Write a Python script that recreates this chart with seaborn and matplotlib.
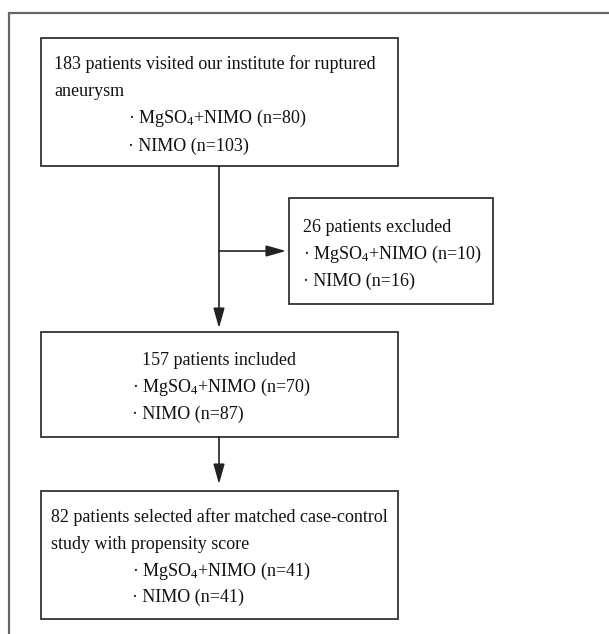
import matplotlib
matplotlib.use("Agg")
import matplotlib.pyplot as plt
from matplotlib.patches import Rectangle, FancyArrowPatch
import seaborn as sns

# ---- data ----
box_titles = [
    ["183 patients visited our institute for ruptured", "aneurysm"],
    ["26 patients excluded"],
    ["157 patients included"],
    ["82 patients selected after matched case-control", "study with propensity score"],
]
combo_n = [80, 10, 70, 41]
nimo_n = [103, 16, 87, 41]
combo_label = "MgSO$_{4}$+NIMO"
nimo_label = "NIMO"

sns.set_theme(style="white")
plt.rcParams["font.family"] = ["Liberation Serif", "DejaVu Serif"]
plt.rcParams["mathtext.default"] = "regular"

fig = plt.figure(figsize=(6.09, 6.34), dpi=100)
ax = fig.add_axes([0, 0, 1, 1])
ax.set_xlim(0, 609)
ax.set_ylim(634, 0)
ax.axis("off")

FS = 13.0
edge = "#333333"

# outer frame (top and left visible)
ax.plot([8.5, 609], [12.5, 12.5], color="#666666", lw=1.6)
ax.plot([8.5, 8.5], [12.5, 634], color="#666666", lw=1.6)

# boxes: (x0, y0, x1, y1)
boxes = [(41, 38, 398, 166), (289, 198, 493, 304), (41, 332, 398, 437), (41, 491, 398, 619)]
for (x0, y0, x1, y1) in boxes:
    ax.add_patch(Rectangle((x0, y0), x1 - x0, y1 - y0, fill=False, ec=edge, lw=1.3))

def arrow(p0, p1):
    ax.add_patch(FancyArrowPatch(p0, p1, arrowstyle="-|>,head_length=0.6,head_width=0.17",
                                 mutation_scale=20, color="#222222", lw=1.2,
                                 shrinkA=0, shrinkB=0))

cx = 219
arrow((cx, 166), (cx, 328))
arrow((cx, 251), (286, 251))
arrow((cx, 437), (cx, 484))

# texts
layout = [
    dict(title_x=[54, 54], title_y=[69, 96], ha="left", bx=128, by=[123, 151]),
    dict(title_x=[303], title_y=[232], ha="left", bx=303, by=[259, 286]),
    dict(title_x=[219], title_y=[365], ha="center", bx=132, by=[392, 419]),
    dict(title_x=[51, 51], title_y=[522, 549], ha="left", bx=132, by=[576, 602]),
]
for i, L in enumerate(layout):
    for t, x, y in zip(box_titles[i], L["title_x"], L["title_y"]):
        ax.text(x, y, t, ha=L["ha"], va="baseline", fontsize=FS, color="#111111")
    ax.text(L["bx"], L["by"][0], "\u00b7 " + combo_label + " (n=%d)" % combo_n[i],
            ha="left", va="baseline", fontsize=FS, color="#111111")
    ax.text(L["bx"], L["by"][1], "\u00b7 " + nimo_label + " (n=%d)" % nimo_n[i],
            ha="left", va="baseline", fontsize=FS, color="#111111")

fig.savefig("out.png", dpi=100)
